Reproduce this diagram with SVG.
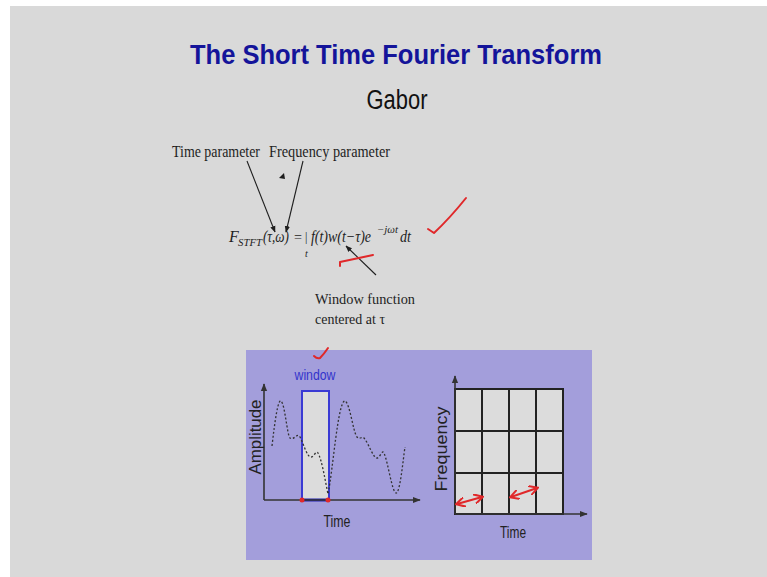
<svg xmlns="http://www.w3.org/2000/svg" width="767" height="577" viewBox="0 0 767 577">
<defs>
<style>
.serif{font-family:"Liberation Serif","Times New Roman",serif;fill:#1e1e1e}
.sans{font-family:"Liberation Sans",Arial,sans-serif}
.it{font-style:italic}
.red{stroke:#e0282a;stroke-width:2;fill:none;stroke-linecap:round;stroke-linejoin:round}
.ax{stroke:#333;stroke-width:1.6;fill:none}
.grid{stroke:#222;stroke-width:2;fill:none}
</style>
<marker id="ah" viewBox="0 0 10 10" refX="9" refY="5" markerWidth="6" markerHeight="6" orient="auto-start-reverse">
<path d="M0,1 L10,5 L0,9 z" fill="#1e1e1e"/>
</marker>
<marker id="axh" viewBox="0 0 10 10" refX="9" refY="5" markerWidth="5" markerHeight="5" orient="auto">
<path d="M0,1 L10,5 L0,9 z" fill="#333"/>
</marker>
<marker id="rh" viewBox="0 0 10 10" refX="8" refY="5" markerWidth="5" markerHeight="5" orient="auto-start-reverse">
<path d="M0,0 L9,5 L0,10" fill="none" stroke="#e0282a" stroke-width="2"/>
</marker>
</defs>
<rect x="0" y="0" width="767" height="577" fill="#ffffff"/>
<rect x="10" y="6" width="757" height="571" fill="#d9d9d9"/>

<g id="title">
<text x="396" y="64" text-anchor="middle" class="sans" font-weight="bold" font-size="28" fill="#14149a" textLength="412" lengthAdjust="spacingAndGlyphs">The Short Time Fourier Transform</text>
<text x="397" y="109" text-anchor="middle" class="sans" font-size="27" fill="#111" textLength="61" lengthAdjust="spacingAndGlyphs">Gabor</text>
</g>

<g id="time-parameter">
<text x="172" y="157" class="serif" font-size="16" textLength="88" lengthAdjust="spacingAndGlyphs">Time parameter</text>
</g>
<g id="frequency-parameter">
<text x="269" y="157" class="serif" font-size="16" textLength="121" lengthAdjust="spacingAndGlyphs">Frequency parameter</text>
</g>
<g id="mark">
<path d="M279,178 L284,173 L285,179 z" fill="#1e1e1e"/>
</g>

<g id="formula" class="serif it">
<text x="229" y="242" font-size="16">F</text>
<text x="238" y="246" font-size="11" textLength="24" lengthAdjust="spacingAndGlyphs">STFT</text>
<text x="263" y="242" font-size="16" textLength="26" lengthAdjust="spacingAndGlyphs">(τ,ω)</text>
<text x="294" y="242" font-size="15" font-style="normal" textLength="8" lengthAdjust="spacingAndGlyphs">=</text>
<text x="305" y="241" font-size="12" font-style="normal">|</text>
<text x="305" y="257" font-size="10">t</text>
<text x="311" y="242" font-size="16" textLength="60" lengthAdjust="spacingAndGlyphs">f(t)w(t−τ)e</text>
<text x="377" y="233" font-size="10" textLength="21" lengthAdjust="spacingAndGlyphs">−jωt</text>
<text x="400" y="242" font-size="16" textLength="11" lengthAdjust="spacingAndGlyphs">dt</text>
</g>

<g id="window-function">
<text x="315" y="304" class="serif" font-size="15.5" textLength="100" lengthAdjust="spacingAndGlyphs">Window function</text>
<text x="315" y="324" class="serif" font-size="15.5" textLength="70" lengthAdjust="spacingAndGlyphs">centered at τ</text>
</g>

<g id="connectors" stroke="#1e1e1e" stroke-width="1.1" fill="none">
<line x1="247" y1="161" x2="275" y2="232" marker-end="url(#ah)"/>
<line x1="303" y1="161" x2="286" y2="232" marker-end="url(#ah)"/>
<line x1="376" y1="275" x2="346" y2="246" marker-end="url(#ah)"/>
</g>

<g id="annotations">
<path class="red" d="M428,229 L434,233 Q450,218 466,198"/>
<path class="red" d="M340,266 L340,262 L373,255"/>
</g>

<g id="panel">
<rect x="246" y="350" width="346" height="210" fill="#a39edb"/>
</g>

<g id="amplitude-plot">
<rect x="302" y="391" width="27" height="109" fill="#dcdcdc" stroke="#3a3ad4" stroke-width="2"/>
<line x1="302" y1="500" x2="329" y2="500" stroke="#2222b0" stroke-width="3"/>
<line class="ax" x1="264" y1="500" x2="264" y2="384" marker-end="url(#axh)"/>
<line class="ax" x1="264" y1="500" x2="420" y2="500" marker-end="url(#axh)"/>
<path d="M272,446 C275,420 278,399 281,401 C285,404 287,435 290,438 C294,441 297,432 300,437 C304,445 307,457 311,457 C314,457 316,450 318,453 C322,460 325,480 328,494 C333,470 338,400 345,401 C350,403 353,432 357,437 C360,440 362,436 364,438 C369,444 373,458 377,458 C380,458 382,449 384,453 C388,462 392,492 396,493 C400,494 403,460 405,447" fill="none" stroke="#333" stroke-width="1.3" stroke-dasharray="2,2"/>
<circle cx="302" cy="500" r="2.5" fill="#e0282a"/>
<circle cx="328" cy="500" r="2.5" fill="#e0282a"/>
<text x="315" y="380" text-anchor="middle" class="sans" font-size="15" fill="#3434cc" textLength="41" lengthAdjust="spacingAndGlyphs">window</text>
<path class="red" d="M328,348 Q324,354 320,358 Q317,359 314,356"/>
<text transform="translate(261,437) rotate(-90)" text-anchor="middle" class="sans" font-size="17" fill="#222" textLength="75" lengthAdjust="spacingAndGlyphs">Amplitude</text>
<text x="337" y="527" text-anchor="middle" class="sans" font-size="17" fill="#222" textLength="27" lengthAdjust="spacingAndGlyphs">Time</text>
</g>

<g id="tf-grid">
<rect x="455" y="389" width="108" height="125" fill="#dcdcdc"/>
<g class="grid">
<rect x="455" y="389" width="108" height="125"/>
<line x1="482" y1="389" x2="482" y2="514"/>
<line x1="509" y1="389" x2="509" y2="514"/>
<line x1="536" y1="389" x2="536" y2="514"/>
<line x1="455" y1="431" x2="563" y2="431"/>
<line x1="455" y1="473" x2="563" y2="473"/>
</g>
<line class="ax" x1="455" y1="514" x2="455" y2="376" marker-end="url(#axh)"/>
<line class="ax" x1="455" y1="514" x2="587" y2="514" marker-end="url(#axh)"/>
<line class="red" x1="457" y1="504" x2="482" y2="497" marker-start="url(#rh)" marker-end="url(#rh)"/>
<line class="red" x1="511" y1="497" x2="537" y2="488" marker-start="url(#rh)" marker-end="url(#rh)"/>
<text transform="translate(447,449) rotate(-90)" text-anchor="middle" class="sans" font-size="17" fill="#222" textLength="85" lengthAdjust="spacingAndGlyphs">Frequency</text>
<text x="513" y="538" text-anchor="middle" class="sans" font-size="17" fill="#222" textLength="26" lengthAdjust="spacingAndGlyphs">Time</text>
</g>
</svg>
